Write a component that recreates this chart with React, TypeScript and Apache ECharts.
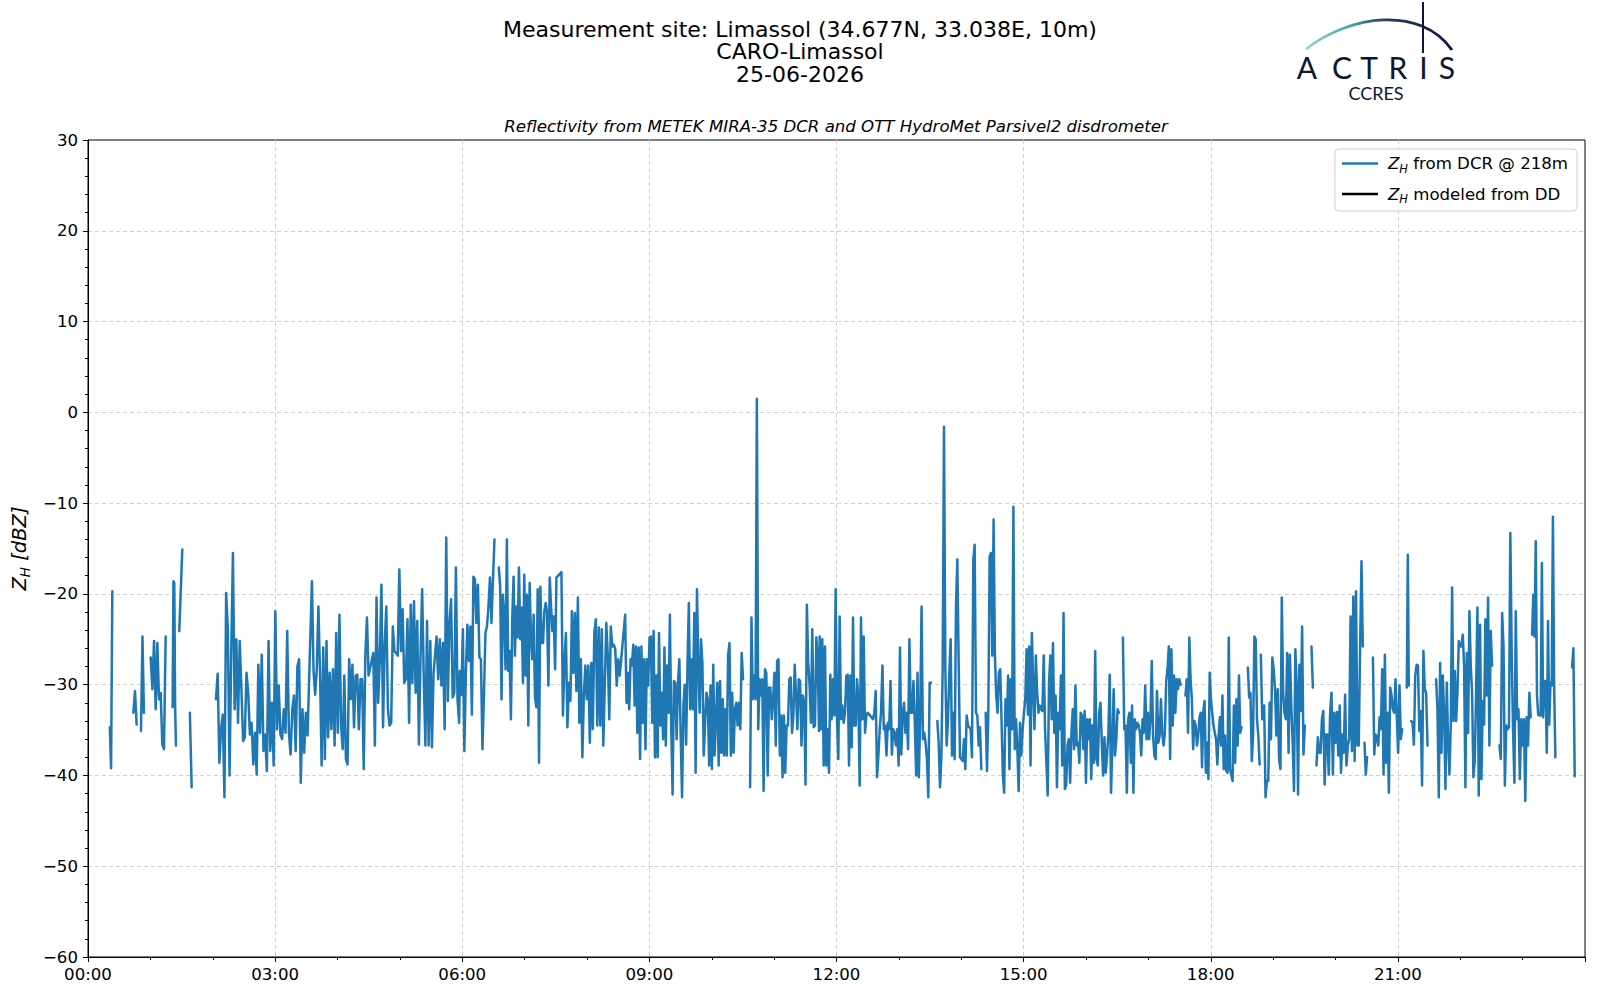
import React, { useEffect, useRef } from "react";
import * as echarts from "echarts";

const FONT = "DejaVu Sans";

const titleLines = [
  "Measurement site: Limassol (34.677N, 33.038E, 10m)",
  "CARO-Limassol",
  "25-06-2026",
];
const subtitle = "Reflectivity from METEK MIRA-35 DCR and OTT HydroMet Parsivel2 disdrometer";
const seriesNames = ["ZH from DCR @ 218m", "ZH modeled from DD"];
const legendTexts = [" from DCR @ 218m", " modeled from DD"];
const logoLetters = ["A", "C", "T", "R", "I", "S"];

// X axis in minutes since 00:00
const xMin = 0;
const xMax = 1440;
const xStep = 180;
const yMin = -60;
const yMax = 30;
const yStep = 10;

// Radar reflectivity runs (dBZ); each run is sampled evenly from t0 to t1 (minutes)
const r0020 = [-34.7, -39.2, -19.7];
const r0044 = [-33.1, -30.7, -34.4];
const r0051 = [-35.1, -24.7, -33.1];
const r0100 = [-27.0, -30.5, -25.2, -32.7, -25.4, -31.6, -30.9, -36.6, -37.1, -24.7];
const r0121 = [-32.5, -18.6, -18.8, -32.3, -36.7];
const r0128 = [-24.1, -15.1];
const r0138 = [-33.1, -41.3];
const a1 = [-31.6, -28.8, -38.6, -34.9, -33.3, -42.4, -19.9, -23.9, -40.0, -26.5, -15.5, -32.7, -25.0, -34.2, -25.2, -30.5, -36.2, -35.8, -28.7, -30.9, -35.5, -34.2, -38.8, -35.3, -39.9, -27.8, -35.3, -26.7, -37.3, -35.5, -39.5, -25.2, -37.3, -32.0, -38.9, -21.9, -34.9, -30.1, -35.5, -36.0, -32.7, -35.3, -24.1, -35.3, -37.7, -32.7, -31.2, -37.3, -28.0, -27.2, -40.8, -32.7, -37.5, -33.1, -35.6];
const a2 = [-18.6, -28.5, -31.1, -28.3, -21.4, -28.7, -38.9, -25.9, -38.2, -25.2, -35.8, -28.7, -34.9, -28.3, -36.7, -24.3, -35.3, -22.3, -34.5, -37.1, -29.0, -38.2, -38.8, -27.2, -31.6, -27.8, -34.7, -29.0, -28.9, -34.9, -29.4, -29.4, -39.3, -26.7, -22.6, -29.0];
const a3 = [-26.5, -36.7, -20.4, -32.0, -27.4, -19.0, -34.7, -25.6, -21.4, -32.7, -34.5, -34.2, -23.6, -26.3, -26.5, -26.8, -17.3, -26.3, -21.7, -29.8, -29.4, -22.8, -34.2, -21.2, -29.8, -20.8, -30.9, -23.0, -36.6, -26.8, -19.5, -29.4, -36.7, -23.0, -36.7, -25.2, -36.9, -28.7];
const a4 = [-24.7, -29.4, -25.0, -30.1, -25.4, -34.9, -13.8, -31.8, -23.2, -20.6, -31.4, -30.9, -17.1, -31.6, -34.2];
const b1 = [-28.5, -31.1, -23.9, -37.3, -28.7, -23.4, -27.4, -23.6, -33.3, -18.1, -18.4, -23.2, -19.0, -27.0, -27.2, -37.1, -31.2, -24.3, -23.6, -21.4, -18.2, -23.2, -18.4, -14.0];
const b2 = [-17.1, -19.2, -31.6, -20.1, -22.1, -28.3, -14.0, -28.5, -26.3, -33.8, -22.8, -18.1, -26.8, -21.4, -24.8, -17.1, -25.0, -21.5, -29.8, -17.9, -29.0, -20.1, -34.5, -18.8, -24.7, -27.2, -22.3, -31.4, -32.5, -19.5, -38.6, -19.2, -25.4, -25.4, -21.9, -21.0, -22.1, -30.1, -18.2, -21.4, -24.1, -22.5, -28.3, -18.2];
const b3 = [-17.6, -33.4, -27.6, -24.3, -34.7, -29.8, -31.8, -21.9, -28.7, -22.1, -30.7, -20.4, -34.2, -27.2, -38.0, -31.2, -27.9, -31.6, -27.9, -36.4, -27.6, -34.9, -24.3, -22.8, -34.5, -23.7, -34.5, -23.9, -36.7, -30.1, -23.2, -26.8, -33.8, -23.6, -25.8, -25.6, -26.1, -30.1, -27.2, -29.0];
const b4 = [-22.3, -32.0, -28.7, -32.7, -27.2, -27.9, -25.6, -32.3, -25.8, -35.3, -25.9, -38.2, -25.8, -34.2, -27.2, -37.1, -27.2, -30.1, -24.8, -24.7, -34.2, -24.1, -38.0, -29.0, -38.0, -24.3, -34.5, -30.9, -36.0, -25.9, -36.7, -27.9, -33.1, -22.3, -34.5, -42.1, -29.6, -29.8, -36.0, -29.8, -27.2, -35.8, -42.4, -32.3, -30.0, -36.6, -27.8, -21.0, -32.7, -27.2, -32.7, -22.1, -39.7, -19.5, -27.6, -33.1, -25.0, -27.6, -37.8, -34.2, -30.9, -31.6, -38.9, -30.1, -39.3, -27.8, -37.8, -33.8, -29.8, -38.9, -29.6, -37.5, -31.6, -37.8, -32.7, -37.8, -26.7, -25.4, -37.8, -30.9, -37.5, -32.7, -32.0, -34.5, -32.0, -34.9, -26.5, -29.4];
const b5 = [-41.3, -22.6, -31.6, -29.0, -31.6, 1.5, -34.9, -29.4, -31.2, -29.4, -41.7, -28.3, -28.7, -40.0, -30.3, -30.3, -33.8, -31.6, -28.7, -36.7, -27.4, -27.2, -37.8, -33.4, -40.2, -33.4, -39.7, -34.5, -34.5, -29.4, -29.2, -35.3, -33.4, -27.8, -31.2, -34.9, -29.4, -29.6, -36.7, -31.2, -32.0, -41.0, -21.2, -27.6, -30.0, -34.2, -23.9, -34.7, -34.5, -24.8, -27.2, -35.1];
const c1 = [-24.7, -34.9, -25.0, -38.9, -25.8, -38.9, -34.9, -39.7, -28.9, -33.8, -29.4, -33.4, -19.5, -33.8, -38.2, -22.5, -33.8, -32.3, -34.2, -33.1, -29.0, -28.9, -38.9, -29.0, -36.9, -22.6, -34.5, -34.5, -29.4, -31.6, -41.1, -22.6, -33.8, -24.7, -35.3, -33.4, -33.1];
const c2 = [-33.8, -33.1, -30.7, -40.2, -37.8, -34.9, -32.9, -27.9, -34.9, -34.5, -37.8, -34.2, -34.9, -29.6, -37.7, -34.9, -35.3, -36.7, -34.9, -38.9, -25.9, -37.7, -33.4, -32.0, -35.3, -33.1, -37.1, -25.0, -33.1, -33.1, -29.6, -34.2, -40.0, -28.7, -40.2, -33.3, -21.4, -36.0, -35.3, -36.4, -38.2, -42.4, -29.8, -29.8];
const c3 = [-34.0, -36.4, -41.3, -38.2, -28.3, -1.6, -28.3, -36.7, -33.8, -28.7, -25.0, -37.8, -33.1, -38.2, -21.4, -16.2, -27.6, -38.0, -38.2, -38.4, -36.0, -39.3, -33.4, -34.5, -34.7, -34.9, -38.0, -16.2, -14.6, -33.1, -33.4, -36.7, -34.7, -39.3];
const c4 = [-33.1, -39.5, -33.1, -15.9, -15.5, -26.8, -11.8, -26.8, -31.2, -33.1, -28.7, -28.3, -33.8, -39.9, -41.9, -31.6, -34.5, -29.0, -39.3, -29.4, -34.9, -10.4, -37.1, -33.8, -37.1, -41.7, -34.2, -37.8, -34.9, -33.1, -31.6, -26.1, -33.3, -25.8, -38.9, -24.3, -30.1, -34.9, -26.8, -30.7, -33.1, -32.3, -32.7, -32.9, -26.8, -34.9, -38.6, -42.2, -29.8, -26.8, -33.8, -25.4, -35.3, -31.2, -41.3, -33.1, -34.9, -29.0, -38.9, -22.1, -41.5, -41.1, -36.7, -36.0, -40.8, -35.3, -32.7, -37.1, -30.1, -36.7, -36.4, -38.6, -33.1, -33.4, -37.1, -32.9, -40.8, -33.8, -36.0, -33.8, -40.4, -34.5, -38.6, -26.3, -38.2, -38.9, -33.1, -32.0, -36.4, -40.0, -35.8, -39.7, -37.8, -35.3, -28.9, -41.9, -36.7, -30.5, -37.8, -36.0, -32.7, -33.1];
const c5 = [-24.8, -34.9, -34.5, -41.9, -33.8, -33.1, -38.6, -32.3, -41.9, -33.8, -34.9, -34.2, -34.5, -35.3, -37.8, -33.8, -35.3, -30.1, -36.0, -33.1, -36.0, -33.8, -27.4, -35.6, -37.8, -38.2, -30.7, -36.4, -35.6, -31.6, -35.3, -36.7, -35.3, -29.6, -28.3, -25.8, -38.2, -26.1, -34.5, -29.0, -33.1, -29.4, -30.5, -29.4, -30.0];
const d1 = [-31.2, -29.4, -35.3, -24.8, -29.4, -31.6, -37.1, -34.0, -34.5, -36.7, -35.6, -33.6, -33.1, -39.1, -32.9, -31.8, -39.7, -36.4, -40.4, -28.7, -31.6, -33.1, -34.5, -35.3, -36.0, -38.8, -35.6, -33.6, -36.7, -31.2, -39.3, -35.6, -39.5, -39.7, -24.8, -39.3, -40.0, -40.6, -32.3, -38.6, -31.6, -36.7, -29.0, -35.3, -34.7];
const d2 = [-28.1, -31.4, -30.9, -38.4, -35.6, -24.7, -25.0, -33.8, -35.6, -38.8];
const d3 = [-26.7, -33.8];
const d4 = [-32.3, -42.4, -40.6, -40.6, -32.0, -36.0, -27.0, -28.3, -30.5, -35.6, -30.5, -38.2, -39.3, -20.4, -30.9, -33.1, -33.8, -26.5, -37.5, -26.7, -32.3, -36.4, -41.7, -26.1, -30.0, -42.1, -27.8, -32.9, -23.6, -37.7, -34.5];
const d5 = [-25.8, -30.3];
const d6 = [-38.9, -35.8, -37.5, -37.5, -33.8, -32.9, -41.0, -35.5, -35.5, -39.9, -33.1, -30.9, -39.9, -33.1, -36.4, -33.0, -37.8, -32.3, -39.7, -35.5, -37.5, -31.1, -38.9, -36.7, -36.0, -22.5, -37.3, -20.3, -38.4, -19.7, -36.7, -36.7, -25.8, -16.4, -25.8];
const d7 = [-36.4, -39.9, -38.0];
const d8 = [-27.0, -37.7, -35.5, -35.8, -36.7, -33.6, -34.9, -28.3, -39.9, -26.7, -38.6, -33.1, -41.9, -30.3, -31.2, -32.7, -33.1, -29.4, -33.6, -37.5, -30.1, -36.0, -34.9];
const d9 = [-30.3, -15.7, -30.1];
const d10 = [-34.0, -34.2, -36.6, -29.0, -27.8, -27.9, -35.1, -32.9, -41.1, -26.3, -30.5, -30.9, -36.7];
const d11 = [-29.4, -32.7, -42.4, -27.6, -37.5, -29.0, -33.1, -41.5, -29.8, -36.4, -39.9, -34.4, -19.3, -34.0, -28.5, -34.0, -30.9, -25.2, -25.8, -25.8, -24.5, -27.9, -41.3, -26.5, -35.3, -21.9, -27.9, -30.9, -40.2, -38.4, -31.2, -21.5, -42.2, -23.4, -40.4, -31.8, -34.4, -22.8, -31.2, -20.4, -36.7, -24.1, -27.9];
const d12 = [-36.7, -38.2, -22.1, -25.9, -41.1, -34.5, -34.9, -34.7, -13.3, -26.5, -34.9, -40.8, -21.9, -33.8, -32.7, -40.4, -33.8, -36.7, -33.8, -42.8, -33.6, -36.7, -30.9, -33.6];
const d13 = [-24.5, -20.1, -24.7, -14.2, -31.2, -33.3, -33.4, -33.4, -16.6, -33.6, -29.6, -29.6, -37.5, -23.0, -34.4, -29.8, -30.1, -11.5, -30.1, -38.0];
const d14 = [-28.1, -26.0, -40.1];

// [values, t0 (min), t1 (min), joined to next run]
const runs: [number[], number, number, boolean][] = [
  [r0020, 21, 23.4, false],
  [r0044, 43.6, 46.8, false],
  [r0051, 51, 53.8, false],
  [r0100, 60.3, 74.7, false],
  [r0121, 81.4, 84.6, false],
  [r0128, 87.8, 90.7, false],
  [r0138, 98, 99.7, false],
  [a1, 123.1, 211.2, true],
  [a2, 215.4, 269.9, true],
  [a3, 274.4, 332.4, true],
  [a4, 335.3, 357, true],
  [b1, 357.7, 391, false],
  [b2, 395.2, 450.6, true],
  [b3, 455.4, 511.5, true],
  [b4, 516.7, 630.1, false],
  [b5, 636.9, 703.2, true],
  [c1, 703.8, 750, true],
  [c2, 755.1, 810.9, false],
  [c3, 817, 859.3, false],
  [c4, 863.5, 991.7, false],
  [c5, 995.5, 1051, false],
  [d1, 1055.7, 1109.6, false],
  [d2, 1115.7, 1127, false],
  [d3, 1128.2, 1129.5, false],
  [d4, 1131.4, 1170.5, false],
  [d5, 1176.9, 1178.2, false],
  [d6, 1181.7, 1226.3, false],
  [d7, 1227.9, 1230.4, false],
  [d8, 1236, 1264.1, false],
  [d9, 1268.6, 1270.5, false],
  [d10, 1272.8, 1288.5, false],
  [d11, 1296.8, 1350.6, false],
  [d12, 1357.7, 1387.8, false],
  [d13, 1389.1, 1411.5, false],
  [d14, 1427.6, 1430.1, false],
];

function buildDcr() {
  const out: (number | string)[][] = [];
  for (const [vals, t0, t1, join] of runs) {
    const n = vals.length;
    vals.forEach((v, i) => {
      const t = n > 1 ? t0 + (i * (t1 - t0)) / (n - 1) : t0;
      out.push([t, v]);
    });
    if (!join) out.push([t1 + 0.3, "-"]);
  }
  return out;
}

const pad2 = (n: number) => (n < 10 ? "0" + n : String(n));

export default function App() {
  const ref = useRef<HTMLDivElement>(null);
  useEffect(() => {
    document.body.style.margin = "0";
    const chart = echarts.init(ref.current!, null, { renderer: "svg" });
    const navy = "#0f1535";
    const letterX = [1307, 1342, 1369, 1398, 1423.5, 1447];
    const centered = { align: "center", verticalAlign: "middle", textAlign: "center", textVerticalAlign: "middle" };
    const graphics: any[] = [
      ...titleLines.map((t, i) => ({
        type: "text",
        x: 800,
        y: [29, 51, 74][i],
        style: { text: t, fontSize: 22, fontFamily: FONT, fill: "#000", ...centered },
      })),
      {
        type: "text",
        x: 836,
        y: 126,
        style: { text: subtitle, fontSize: 16.6, fontStyle: "italic", fontFamily: FONT, fill: "#000", ...centered },
      },
      {
        type: "bezierCurve",
        shape: { x1: 1306, y1: 49, cpx1: 1350, cpy1: 15, cpx2: 1420, cpy2: 5, x2: 1452, y2: 50 },
        style: {
          fill: "none",
          lineWidth: 2.8,
          stroke: new echarts.graphic.LinearGradient(0, 0, 1, 0, [
            { offset: 0, color: "#9ad8d0" },
            { offset: 0.3, color: "#46a4aa" },
            { offset: 0.55, color: "#1f3d5e" },
            { offset: 1, color: navy },
          ]),
        },
      },
      {
        type: "line",
        shape: { x1: 1423, y1: 2, x2: 1423, y2: 53 },
        style: { stroke: navy, lineWidth: 2 },
      },
      ...logoLetters.map((l, i) => ({
        type: "text",
        x: letterX[i],
        y: 67,
        style: { text: l, fontSize: 30, fontFamily: "Lato", fill: navy, ...centered },
      })),
      {
        type: "text",
        x: 1376,
        y: 93,
        style: { text: "CCRES", fontSize: 18, fontFamily: "Lato", fill: navy, ...centered },
      },
    ];

    const option: any = {
      animation: false,
      backgroundColor: "#ffffff",
      textStyle: { fontFamily: FONT },
      grid: {
        left: 88,
        right: 15,
        top: 140,
        bottom: 43,
        show: true,
        borderColor: "#000",
        borderWidth: 1,
        backgroundColor: "transparent",
      },
      graphic: graphics,
      legend: {
        orient: "vertical",
        align: "left",
        right: 23,
        top: 149,
        padding: [6, 9, 6, 7],
        itemGap: 11,
        itemWidth: 36,
        itemHeight: 2.5,
        icon: "rect",
        selectedMode: false,
        backgroundColor: "rgba(255,255,255,0.8)",
        borderColor: "#cccccc",
        borderWidth: 1,
        borderRadius: 4,
        data: seriesNames,
        formatter: (name: string) => {
          const i = seriesNames.indexOf(name);
          return "{z|Z}{h|H}{t|" + legendTexts[i] + "}";
        },
        textStyle: {
          fontFamily: FONT,
          fontSize: 16.6,
          color: "#000",
          rich: {
            z: { fontFamily: FONT, fontSize: 16.6, fontStyle: "italic", color: "#000", padding: [0, 0, 0, 5] },
            h: { fontFamily: FONT, fontSize: 11.5, fontStyle: "italic", color: "#000", padding: [10, 0, 0, 0] },
            t: { fontFamily: FONT, fontSize: 16.6, color: "#000" },
          },
        },
      },
      xAxis: {
        type: "value",
        min: xMin,
        max: xMax,
        interval: xStep,
        axisLine: { show: true, onZero: false, lineStyle: { color: "#000", width: 1 } },
        axisTick: { show: true, length: 5, lineStyle: { color: "#000" } },
        minorTick: { show: true, splitNumber: 3, length: 3, lineStyle: { color: "#000" } },
        splitLine: {
          show: true,
          showMinLine: false,
          showMaxLine: false,
          lineStyle: { color: "#d0d0d0", width: 1, type: [4, 3] },
        },
        axisLabel: {
          color: "#000",
          fontSize: 16.6,
          fontFamily: FONT,
          margin: 9,
          showMaxLabel: false,
          formatter: (v: number) => pad2(Math.floor(v / 60)) + ":" + pad2(v % 60),
        },
      },
      yAxis: {
        type: "value",
        min: yMin,
        max: yMax,
        interval: yStep,
        name: "{z|Z}{h|H}{t| [dBZ]}",
        nameLocation: "middle",
        nameGap: 44,
        nameTextStyle: {
          fontFamily: FONT,
          fontSize: 19.5,
          color: "#000",
          rich: {
            z: { fontFamily: FONT, fontSize: 19.5, fontStyle: "italic", color: "#000" },
            h: { fontFamily: FONT, fontSize: 13.5, fontStyle: "italic", color: "#000", padding: [11, 0, 0, 0] },
            t: { fontFamily: FONT, fontSize: 19.5, fontStyle: "italic", color: "#000" },
          },
        },
        axisLine: { show: true, onZero: false, lineStyle: { color: "#000", width: 1 } },
        axisTick: { show: true, length: 5, lineStyle: { color: "#000" } },
        minorTick: { show: true, splitNumber: 5, length: 3, lineStyle: { color: "#000" } },
        splitLine: {
          show: true,
          showMinLine: false,
          showMaxLine: false,
          lineStyle: { color: "#d0d0d0", width: 1, type: [4, 3] },
        },
        axisLabel: {
          color: "#000",
          fontSize: 16.6,
          fontFamily: FONT,
          margin: 10,
          formatter: (v: number) => (v < 0 ? "\u2212" + Math.abs(v) : String(v)),
        },
      },
      series: [
        {
          name: seriesNames[0],
          type: "line",
          data: buildDcr(),
          symbol: "none",
          showSymbol: false,
          connectNulls: false,
          silent: true,
          color: "#1f77b4",
          lineStyle: { color: "#1f77b4", width: 2.5, join: "round", cap: "round" },
        },
        {
          name: seriesNames[1],
          type: "line",
          data: [],
          symbol: "none",
          showSymbol: false,
          silent: true,
          color: "#000000",
          lineStyle: { color: "#000000", width: 2 },
        },
      ],
    };
    chart.setOption(option);
    return () => chart.dispose();
  }, []);
  return <div ref={ref} style={{ width: 1600, height: 1000 }} />;
}
